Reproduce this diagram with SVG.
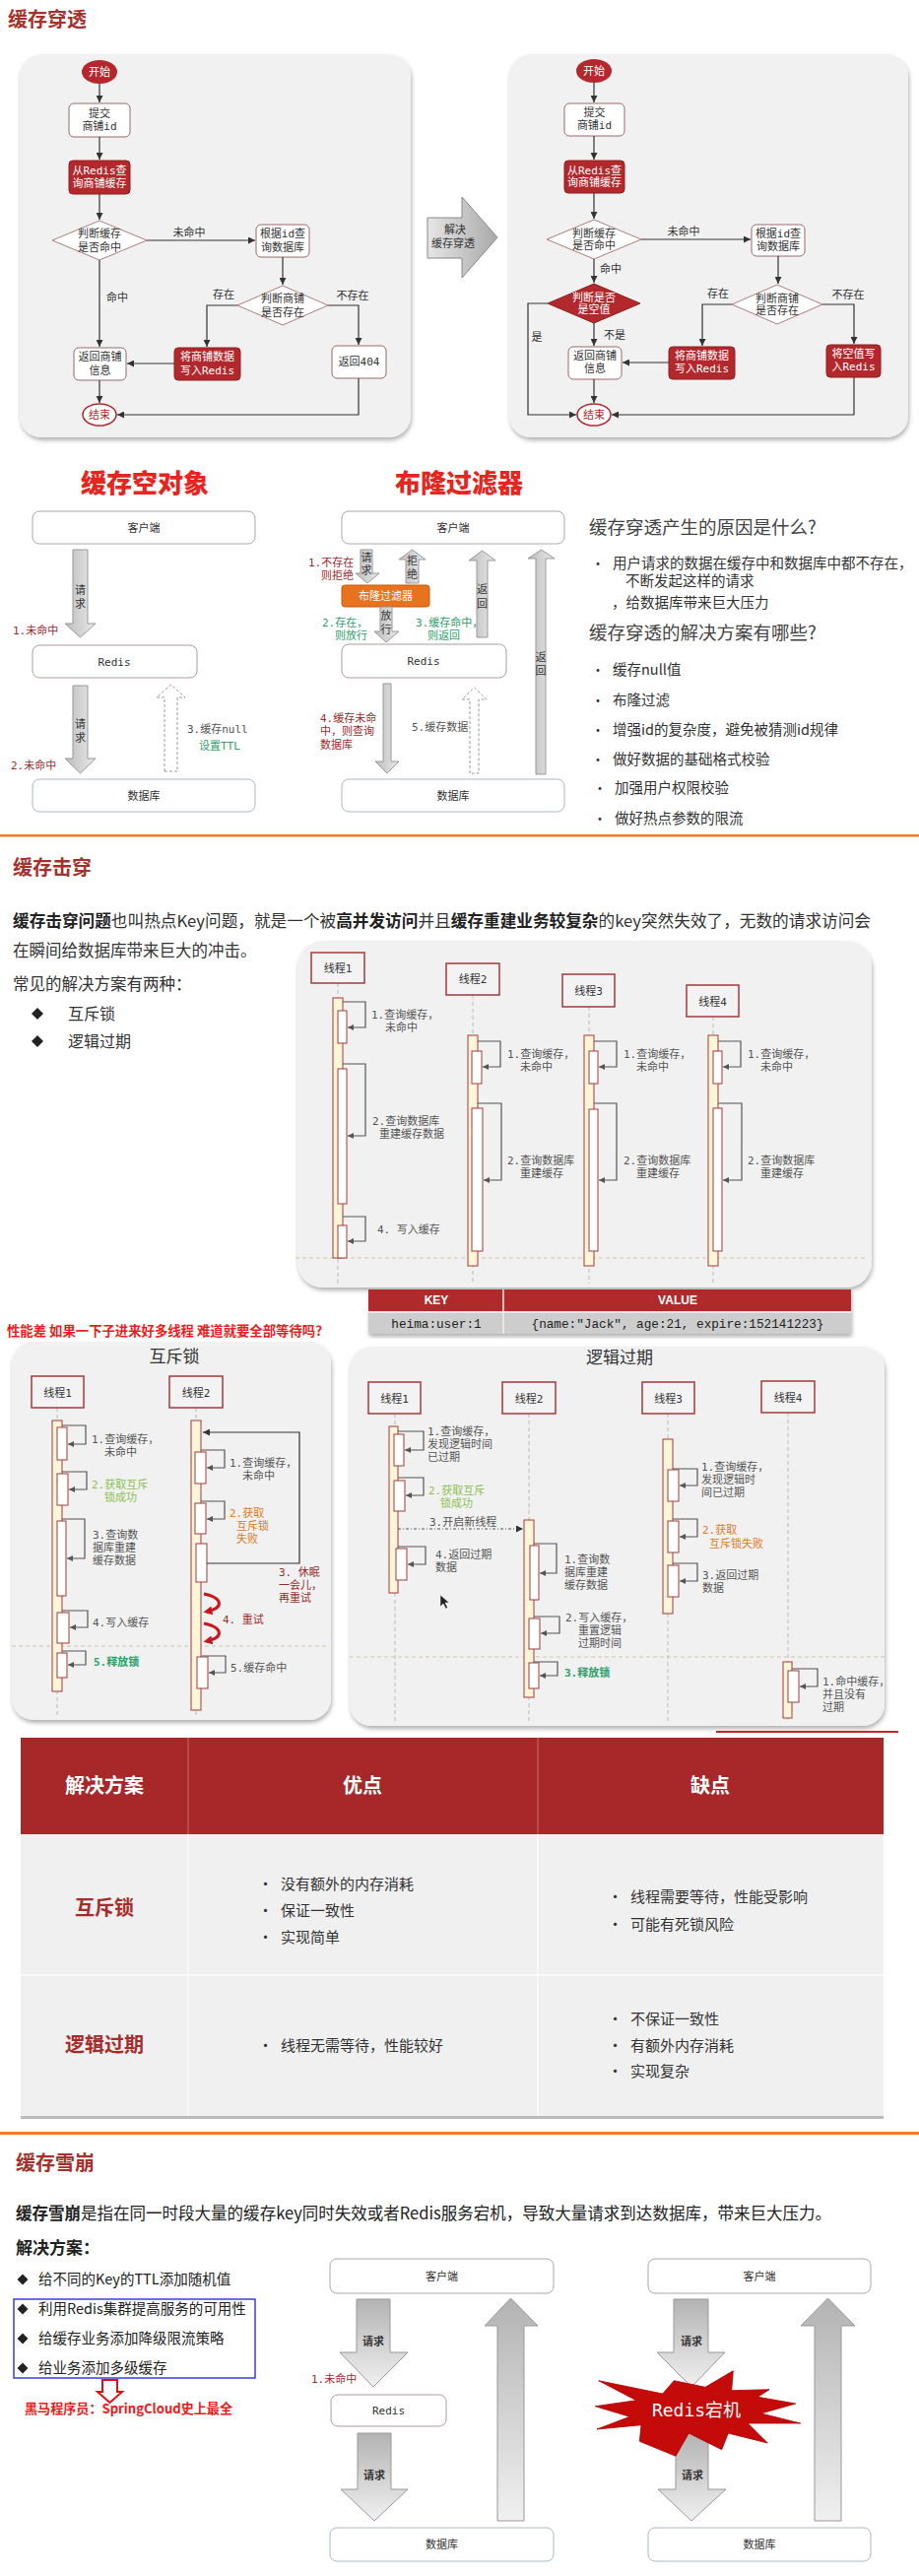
<svg xmlns="http://www.w3.org/2000/svg" width="933" height="2615" viewBox="0 0 933 2615">
<defs>
<style>
.c{font-family:"Noto Sans CJK SC","Noto Sans",sans-serif}
.h{font-family:"Noto Sans CJK SC",sans-serif;font-weight:700;font-size:20px;fill:#a5302c}
.big{font-family:"Noto Sans CJK SC",sans-serif;font-weight:900;font-size:26px;fill:#e5261f;text-anchor:middle}
.fl{font-family:"DejaVu Sans Mono","Noto Sans CJK SC",monospace;font-size:11px;fill:#333;text-anchor:middle}
.lb{font-family:"DejaVu Sans Mono","Noto Sans CJK SC",monospace;font-size:11px;fill:#555}
.bt{font-family:"Noto Sans CJK SC",sans-serif;font-size:14.5px;fill:#333}
.fw{fill:#fff}
.rt{fill:#b3282d}
.dr{fill:#9c2b2b}
.gr{fill:#2e9e6a}
.lg{fill:#8cc152}
.or{fill:#e07b22}
.nb{fill:#fff;stroke:#9a6a6a;stroke-width:1}
.rb{fill:#b3282d;stroke:#8e2020;stroke-width:1}
.dm{fill:#fff;stroke:#b07c7c;stroke-width:1}
.ln{fill:none;stroke:#333;stroke-width:1.2}
.pb{fill:#fff;stroke:#a8a8a8;stroke-width:1}
.pr{fill:#fff;stroke:#b09a9a;stroke-width:1}
.pd{fill:#fff;stroke:#a8b8cc;stroke-width:1}
.tb{fill:#f3f3f3;stroke:#a33a3a;stroke-width:1.5}
.act{fill:#fdf5d8;stroke:#a33a3a;stroke-width:1}
.inn{fill:#fff;stroke:#a33a3a;stroke-width:1}
.sa{fill:none;stroke:#555;stroke-width:1.2}
.ll{stroke:#bbb;stroke-width:1;stroke-dasharray:4 3}
.hd{stroke:#cfc6a6;stroke-width:1;stroke-dasharray:4 3}
.ga{fill:url(#gh);stroke:#999;stroke-width:1}
.gv{fill:url(#gv);stroke:#999;stroke-width:1}
.da{fill:none;stroke:#999;stroke-width:1;stroke-dasharray:3 2}
</style>
<filter id="sh" x="-5%" y="-5%" width="110%" height="115%"><feDropShadow dx="1" dy="3" stdDeviation="2" flood-color="#000" flood-opacity="0.3"/></filter>
<linearGradient id="gh" x1="0" y1="0" x2="1" y2="0"><stop offset="0" stop-color="#bdbdbd"/><stop offset="1" stop-color="#e9e9e9"/></linearGradient>
<linearGradient id="gv" x1="0" y1="0" x2="0" y2="1"><stop offset="0" stop-color="#b3b3b3"/><stop offset="1" stop-color="#f0f0f0"/></linearGradient>
<linearGradient id="gx" x1="0" y1="0" x2="1" y2="0"><stop offset="0" stop-color="#e6e6e6"/><stop offset="1" stop-color="#a9a9a9"/></linearGradient>
<marker id="a" viewBox="0 0 10 10" refX="10" refY="5" markerWidth="7" markerHeight="7" markerUnits="userSpaceOnUse" orient="auto"><path d="M0,0 L10,5 L0,10 z" fill="#333"/></marker>
<marker id="s" viewBox="0 0 10 10" refX="10" refY="5" markerWidth="6" markerHeight="6" markerUnits="userSpaceOnUse" orient="auto"><path d="M0,0 L10,5 L0,10 z" fill="#555"/></marker>
<marker id="r" viewBox="0 0 10 10" refX="6" refY="5" markerWidth="9" markerHeight="9" markerUnits="userSpaceOnUse" orient="auto"><path d="M0,0 L10,5 L0,10 z" fill="#c8171e"/></marker>
</defs>
<rect width="933" height="2615" fill="#fff"/>

<!-- ===== Section 1: 缓存穿透 ===== -->
<text class="h" x="8" y="27">缓存穿透</text>
<rect x="20" y="55" width="397" height="389" rx="22" fill="#f1f1f1" filter="url(#sh)"/>
<rect x="517" y="55" width="405" height="389" rx="22" fill="#f1f1f1" filter="url(#sh)"/>

<g id="L-start"><ellipse cx="101" cy="73" rx="18" ry="12" fill="#b3282d"/><text class="fl fw" x="101" y="77">开始</text></g>
<g id="L-submit"><rect class="nb" x="70" y="105" width="62" height="34" rx="5"/><text class="fl" x="101" y="119">提交</text><text class="fl" x="101" y="132">商铺id</text></g>
<g id="L-query-redis"><rect class="rb" x="70" y="163" width="62" height="34" rx="4"/><text class="fl fw" x="101" y="177">从Redis查</text><text class="fl fw" x="101" y="190">询商铺缓存</text></g>
<g id="L-hit"><polygon class="dm" points="53,244 101,224 149,244 101,264"/><text class="fl" x="101" y="241">判断缓存</text><text class="fl" x="101" y="255">是否命中</text></g>
<g id="L-query-db"><rect class="nb" x="260" y="228" width="54" height="33" rx="5"/><text class="fl" x="287" y="241">根据id查</text><text class="fl" x="287" y="255">询数据库</text></g>
<g id="L-exists"><polygon class="dm" points="241,310 287,290 333,310 287,330"/><text class="fl" x="287" y="307">判断商铺</text><text class="fl" x="287" y="321">是否存在</text></g>
<g id="L-write"><rect class="rb" x="177" y="353" width="67" height="33" rx="4"/><text class="fl fw" x="210.5" y="366">将商铺数据</text><text class="fl fw" x="210.5" y="380">写入Redis</text></g>
<g id="L-404"><rect class="nb" x="337" y="351" width="55" height="33" rx="5"/><text class="fl" x="364.5" y="371">返回404</text></g>
<g id="L-return"><rect class="nb" x="75" y="353" width="53" height="33" rx="5"/><text class="fl" x="101.5" y="366">返回商铺</text><text class="fl" x="101.5" y="380">信息</text></g>
<g id="L-end"><ellipse cx="101" cy="421" rx="17" ry="11" fill="#fff" stroke="#b3282d" stroke-width="1.5"/><text class="fl rt" x="101" y="425">结束</text></g>

<g id="L-edges">
<path class="ln" d="M101,85 V104" marker-end="url(#a)"/>
<path class="ln" d="M101,139 V162" marker-end="url(#a)"/>
<path class="ln" d="M101,197 V223" marker-end="url(#a)"/>
<path class="ln" d="M149,244 H259" marker-end="url(#a)"/>
<path class="ln" d="M287,261 V289" marker-end="url(#a)"/>
<path class="ln" d="M241,310 H210 V352" marker-end="url(#a)"/>
<path class="ln" d="M333,310 H364 V350" marker-end="url(#a)"/>
<path class="ln" d="M101,264 V352" marker-end="url(#a)"/>
<path class="ln" d="M177,369 H129" marker-end="url(#a)"/>
<path class="ln" d="M101,386 V409" marker-end="url(#a)"/>
<path class="ln" d="M364,384 V421 H119" marker-end="url(#a)"/>
<text class="fl" x="192" y="240">未命中</text>
<text class="fl" x="119" y="306">命中</text>
<text class="fl" x="227" y="303">存在</text>
<text class="fl" x="358" y="304">不存在</text>
</g>

<g id="solve-arrow"><path d="M434,221 H469 V200 L505,241 L469,282 V262 H434 Z" fill="url(#gx)" stroke="#888" stroke-width="1"/><text class="fl" x="462" y="237">解决</text><text class="fl" x="460" y="251">缓存穿透</text></g>

<g id="R-start"><ellipse cx="603" cy="72" rx="18" ry="12" fill="#b3282d"/><text class="fl fw" x="603" y="76">开始</text></g>
<g id="R-submit"><rect class="nb" x="573" y="105" width="61" height="33" rx="5"/><text class="fl" x="603.5" y="118">提交</text><text class="fl" x="603.5" y="131">商铺id</text></g>
<g id="R-query-redis"><rect class="rb" x="573" y="163" width="61" height="33" rx="4"/><text class="fl fw" x="603.5" y="177">从Redis查</text><text class="fl fw" x="603.5" y="189">询商铺缓存</text></g>
<g id="R-hit"><polygon class="dm" points="555,243 603,223 651,243 603,263"/><text class="fl" x="603" y="241">判断缓存</text><text class="fl" x="603" y="253">是否命中</text></g>
<g id="R-query-db"><rect class="nb" x="763" y="228" width="54" height="32" rx="5"/><text class="fl" x="790" y="241">根据id查</text><text class="fl" x="790" y="254">询数据库</text></g>
<g id="R-null"><polygon points="556,308 603,288 650,308 603,328" fill="#b3282d" stroke="#8e2020"/><text class="fl fw" x="603" y="306">判断是否</text><text class="fl fw" x="603" y="318">是空值</text></g>
<g id="R-exists"><polygon class="dm" points="743,309 789,289 835,309 789,329"/><text class="fl" x="789" y="307">判断商铺</text><text class="fl" x="789" y="319">是否存在</text></g>
<g id="R-write"><rect class="rb" x="679" y="352" width="67" height="33" rx="4"/><text class="fl fw" x="712.5" y="365">将商铺数据</text><text class="fl fw" x="712.5" y="378">写入Redis</text></g>
<g id="R-write-null"><rect class="rb" x="839" y="350" width="55" height="33" rx="4"/><text class="fl fw" x="866.5" y="363">将空值写</text><text class="fl fw" x="866.5" y="376">入Redis</text></g>
<g id="R-return"><rect class="nb" x="577" y="352" width="54" height="33" rx="5"/><text class="fl" x="604" y="365">返回商铺</text><text class="fl" x="604" y="378">信息</text></g>
<g id="R-end"><ellipse cx="603" cy="421" rx="17" ry="11" fill="#fff" stroke="#b3282d" stroke-width="1.5"/><text class="fl rt" x="603" y="425">结束</text></g>

<g id="R-edges">
<path class="ln" d="M603,84 V104" marker-end="url(#a)"/>
<path class="ln" d="M603,138 V162" marker-end="url(#a)"/>
<path class="ln" d="M603,196 V222" marker-end="url(#a)"/>
<path class="ln" d="M651,243 H762" marker-end="url(#a)"/>
<path class="ln" d="M790,260 V288" marker-end="url(#a)"/>
<path class="ln" d="M603,263 V287" marker-end="url(#a)"/>
<path class="ln" d="M603,328 V351" marker-end="url(#a)"/>
<path class="ln" d="M556,308 H536 V421 H585" marker-end="url(#a)"/>
<path class="ln" d="M743,309 H713 V351" marker-end="url(#a)"/>
<path class="ln" d="M835,309 H867 V349" marker-end="url(#a)"/>
<path class="ln" d="M679,368 H632" marker-end="url(#a)"/>
<path class="ln" d="M603,385 V409" marker-end="url(#a)"/>
<path class="ln" d="M867,383 V421 H621" marker-end="url(#a)"/>
<text class="fl" x="694" y="239">未命中</text>
<text class="fl" x="620" y="277">命中</text>
<text class="fl" x="729" y="302">存在</text>
<text class="fl" x="861" y="303">不存在</text>
<text class="fl" x="545" y="346">是</text>
<text class="fl" x="624" y="344">不是</text>
</g>

<!-- ===== Section 2: 缓存空对象 / 布隆过滤器 ===== -->
<text class="big" x="147" y="500">缓存空对象</text>
<text class="big" x="466" y="500">布隆过滤器</text>

<g id="N-client"><rect class="pb" x="33" y="519" width="226" height="33" rx="7"/><text class="fl" x="146" y="540" fill="#555">客户端</text></g>
<g id="N-redis"><rect class="pr" x="33" y="655" width="167" height="33" rx="7"/><text class="fl" x="116" y="676">Redis</text></g>
<g id="N-db"><rect class="pd" x="33" y="791" width="226" height="33" rx="7"/><text class="fl" x="146" y="812">数据库</text></g>
<g id="N-edges">
<path class="ga" d="M74,558 H89 V633 H97 L81.5,647 L66,633 H74 Z"/>
<text class="fl" x="81.5" y="603">请</text><text class="fl" x="81.5" y="617">求</text>
<path class="ga" d="M74,696 H89 V770 H97 L81.5,785 L66,770 H74 Z"/>
<text class="fl" x="81.5" y="739">请</text><text class="fl" x="81.5" y="753">求</text>
<path class="da" d="M167,783 V708 H159 L173.5,695 L188,708 H180 V783 Z"/>
<text class="lb dr" x="13" y="644">1.未命中</text>
<text class="lb dr" x="11" y="781">2.未命中</text>
<text class="lb" x="190" y="744">3.缓存null</text>
<text class="lb gr" x="202" y="761">设置TTL</text>
</g>

<g id="B-client"><rect class="pb" x="347" y="519" width="226" height="33" rx="7"/><text class="fl" x="460" y="540">客户端</text></g>
<g id="B-filter"><rect x="347" y="594" width="89" height="22" rx="3" fill="#e8731f" stroke="#c55a10"/><text class="fl fw" x="391.5" y="609">布隆过滤器</text></g>
<g id="B-redis"><rect class="pr" x="347" y="654" width="167" height="34" rx="7"/><text class="fl" x="430" y="675">Redis</text></g>
<g id="B-db"><rect class="pd" x="347" y="791" width="226" height="33" rx="7"/><text class="fl" x="460" y="812">数据库</text></g>
<g id="B-edges">
<path class="ga" d="M366,558 H378 V582 H385 L373,592 L361,582 H366 Z"/>
<text class="fl" x="372" y="570">请</text><text class="fl" x="372" y="583">求</text>
<path class="ga" d="M412,592 V568 H405 L418.5,558 L432,568 H425 V592 Z"/>
<text class="fl" x="418.5" y="573">拒</text><text class="fl" x="418.5" y="587">绝</text>
<path class="ga" d="M386,616 H398 V641 H405 L392,652 L380,641 H386 Z"/>
<text class="fl" x="392" y="629">放</text><text class="fl" x="392" y="643">行</text>
<path class="ga" d="M484,647 V569 H476 L489.5,559 L503,569 H495 V647 Z"/>
<text class="fl" x="489.5" y="602">返</text><text class="fl" x="489.5" y="617">回</text>
<path class="ga" d="M389,694 H397 V773 H405 L393,785 L381,773 H389 Z"/>
<path class="da" d="M477,785 V710 H469 L481.5,698 L494,710 H486 V785 Z"/>
<path class="ga" d="M544,786 V567 H536 L549.5,558 L563,567 H554 V786 Z"/>
<text class="fl" x="549" y="671">返</text><text class="fl" x="549" y="685">回</text>
<text class="lb dr" x="313" y="575">1.不存在</text>
<text class="lb dr" x="326" y="588">则拒绝</text>
<text class="lb gr" x="327" y="636">2.存在，</text>
<text class="lb gr" x="340" y="649">则放行</text>
<text class="lb gr" x="422" y="636">3.缓存命中，</text>
<text class="lb gr" x="434" y="649">则返回</text>
<text class="lb dr" x="325" y="733">4.缓存未命</text>
<text class="lb dr" x="325" y="746">中，则查询</text>
<text class="lb dr" x="325" y="760">数据库</text>
<text class="lb" x="418" y="742">5.缓存数据</text>
</g>

<g id="pen-text" class="c">
<text x="598" y="542" font-size="18.5" fill="#444">缓存穿透产生的原因是什么?</text>
<text x="600" y="577" font-size="14" fill="#333">•</text>
<text class="bt" x="622" y="577">用户请求的数据在缓存中和数据库中都不存在，</text>
<text class="bt" x="635" y="595">不断发起这样的请求</text>
<text class="bt" x="621" y="617">，给数据库带来巨大压力</text>
<text x="598" y="649" font-size="18.5" fill="#444">缓存穿透的解决方案有哪些?</text>
<text x="600" y="685" font-size="14" fill="#333">•</text><text class="bt" x="622" y="685">缓存null值</text>
<text x="600" y="716" font-size="14" fill="#333">•</text><text class="bt" x="622" y="716">布隆过滤</text>
<text x="600" y="746" font-size="14" fill="#333">•</text><text class="bt" x="622" y="746">增强id的复杂度，避免被猜测id规律</text>
<text x="600" y="776" font-size="14" fill="#333">•</text><text class="bt" x="622" y="776">做好数据的基础格式校验</text>
<text x="602" y="805" font-size="14" fill="#333">•</text><text class="bt" x="624" y="805">加强用户权限校验</text>
<text x="602" y="836" font-size="14" fill="#333">•</text><text class="bt" x="624" y="836">做好热点参数的限流</text>
</g>
<rect x="0" y="847" width="933" height="2.5" fill="#f47a2a"/>

<!-- ===== Section 3: 缓存击穿 ===== -->
<text class="h" x="13" y="888">缓存击穿</text>
<g class="c" fill="#333">
<text x="13" y="941" font-size="16.5" textLength="871" lengthAdjust="spacingAndGlyphs"><tspan font-weight="700" fill="#222">缓存击穿问题</tspan>也叫热点Key问题，就是一个被<tspan font-weight="700" fill="#222">高并发访问</tspan>并且<tspan font-weight="700" fill="#222">缓存重建业务较复杂</tspan>的key突然失效了，无数的请求访问会</text>
<text x="13" y="971" font-size="16.5">在瞬间给数据库带来巨大的冲击。</text>
<text x="13" y="1005" font-size="16.5">常见的解决方案有两种：</text>
<polygon points="38,1023 44,1029 38,1035 32,1029" fill="#222"/>
<text x="69" y="1035" font-size="16">互斥锁</text>
<polygon points="38,1051 44,1057 38,1063 32,1057" fill="#222"/>
<text x="69" y="1063" font-size="16">逻辑过期</text>
</g>

<rect x="302" y="955" width="583" height="352" rx="26" fill="#f1f1f1" filter="url(#sh)"/>
<g id="K-lifelines">
<line class="ll" x1="343" y1="998" x2="343" y2="1303"/>
<line class="ll" x1="480" y1="1010" x2="480" y2="1303"/>
<line class="ll" x1="598" y1="1022" x2="598" y2="1303"/>
<line class="ll" x1="724" y1="1032" x2="724" y2="1303"/>
<line class="hd" x1="300" y1="1277" x2="880" y2="1277"/>
</g>
<g id="K-T1"><rect class="tb" x="316" y="967" width="54" height="31"/><text class="fl" x="343" y="987">线程1</text>
<rect class="act" x="338" y="1013" width="10" height="264"/>
<rect class="inn" x="343" y="1026" width="9" height="33"/><rect class="inn" x="343" y="1085" width="9" height="137"/><rect class="inn" x="343" y="1244" width="9" height="33"/></g>
<g id="K-T2"><rect class="tb" x="453" y="978" width="54" height="32"/><text class="fl" x="480" y="998">线程2</text>
<rect class="act" x="475" y="1051" width="10" height="234"/>
<rect class="inn" x="479" y="1067" width="10" height="33"/><rect class="inn" x="479" y="1125" width="11" height="145"/></g>
<g id="K-T3"><rect class="tb" x="571" y="989" width="53" height="33"/><text class="fl" x="597.5" y="1010">线程3</text>
<rect class="act" x="593" y="1051" width="10" height="234"/>
<rect class="inn" x="598" y="1067" width="9" height="33"/><rect class="inn" x="598" y="1126" width="9" height="144"/></g>
<g id="K-T4"><rect class="tb" x="697" y="1000" width="53" height="32"/><text class="fl" x="723.5" y="1021">线程4</text>
<rect class="act" x="719" y="1051" width="10" height="234"/>
<rect class="inn" x="724" y="1067" width="9" height="33"/><rect class="inn" x="724" y="1125" width="9" height="145"/></g>
<g id="K-edges">
<path class="sa" d="M348,1017 H371 V1043 H353" marker-end="url(#s)"/>
<path class="sa" d="M348,1080 H371 V1153 H353" marker-end="url(#s)"/>
<path class="sa" d="M348,1235 H371 V1260 H353" marker-end="url(#s)"/>
<path class="sa" d="M485,1057 H508 V1083 H490" marker-end="url(#s)"/>
<path class="sa" d="M485,1120 H509 V1198 H491" marker-end="url(#s)"/>
<path class="sa" d="M603,1057 H626 V1083 H608" marker-end="url(#s)"/>
<path class="sa" d="M603,1120 H626 V1198 H608" marker-end="url(#s)"/>
<path class="sa" d="M729,1057 H752 V1083 H734" marker-end="url(#s)"/>
<path class="sa" d="M729,1120 H753 V1198 H734" marker-end="url(#s)"/>
<text class="lb" x="377" y="1034">1.查询缓存，</text><text class="lb" x="391" y="1047">未命中</text>
<text class="lb" x="378" y="1142">2.查询数据库</text><text class="lb" x="385" y="1155">重建缓存数据</text>
<text class="lb" x="383" y="1252">4. 写入缓存</text>
<text class="lb" x="515" y="1074">1.查询缓存，</text><text class="lb" x="528" y="1087">未命中</text>
<text class="lb" x="515" y="1182">2.查询数据库</text><text class="lb" x="528" y="1195">重建缓存</text>
<text class="lb" x="633" y="1074">1.查询缓存，</text><text class="lb" x="646" y="1087">未命中</text>
<text class="lb" x="633" y="1182">2.查询数据库</text><text class="lb" x="646" y="1195">重建缓存</text>
<text class="lb" x="759" y="1074">1.查询缓存，</text><text class="lb" x="772" y="1087">未命中</text>
<text class="lb" x="759" y="1182">2.查询数据库</text><text class="lb" x="772" y="1195">重建缓存</text>
</g>

<g id="kv-table">
<rect x="374" y="1309" width="490" height="45" fill="#ccc" filter="url(#sh)"/>
<rect x="374" y="1309" width="490" height="22" fill="#b0292b"/>
<rect x="374" y="1333" width="490" height="21" fill="#cdcdcd"/>
<line x1="511" y1="1309" x2="511" y2="1354" stroke="#eee" stroke-width="1.5"/>
<line x1="374" y1="1332" x2="864" y2="1332" stroke="#eee" stroke-width="1.5"/>
<text x="443" y="1324" font-family="Liberation Sans,Arial,sans-serif" font-weight="700" font-size="12" fill="#fff" text-anchor="middle">KEY</text>
<text x="688" y="1324" font-family="Liberation Sans,Arial,sans-serif" font-weight="700" font-size="12" fill="#fff" text-anchor="middle">VALUE</text>
<text x="443" y="1348" font-family="Liberation Mono,monospace" font-size="12.7" fill="#222" text-anchor="middle">heima:user:1</text>
<text x="688" y="1348" font-family="Liberation Mono,monospace" font-size="12.7" fill="#222" text-anchor="middle">{name:"Jack", age:21, expire:152141223}</text>
</g>

<text x="7" y="1356" class="c" font-size="13.5" font-weight="700" fill="#ee1c1c" textLength="320" lengthAdjust="spacingAndGlyphs">性能差 如果一下子进来好多线程 难道就要全部等待吗?</text>

<!-- 互斥锁 -->
<rect x="12" y="1362" width="324" height="384" rx="22" fill="#f1f1f1" filter="url(#sh)"/>
<text class="c" x="177" y="1383" font-size="17" fill="#333" text-anchor="middle">互斥锁</text>
<g id="M-lifelines">
<line class="ll" x1="58" y1="1429" x2="58" y2="1742"/>
<line class="ll" x1="199" y1="1429" x2="199" y2="1742"/>
<line class="hd" x1="12" y1="1671" x2="333" y2="1671"/>
</g>
<g id="M-T1"><rect class="tb" x="32" y="1397" width="53" height="32"/><text class="fl" x="58.5" y="1418">线程1</text>
<rect class="act" x="53" y="1442" width="10" height="275"/>
<rect class="inn" x="58" y="1449" width="10" height="33"/><rect class="inn" x="58" y="1496" width="11" height="32"/><rect class="inn" x="58" y="1544" width="9" height="76"/><rect class="inn" x="58" y="1637" width="12" height="31"/><rect class="inn" x="58" y="1678" width="10" height="25"/></g>
<g id="M-T2"><rect class="tb" x="172" y="1397" width="54" height="32"/><text class="fl" x="199" y="1418">线程2</text>
<rect class="act" x="194" y="1442" width="10" height="294"/>
<rect class="inn" x="198" y="1474" width="11" height="32"/><rect class="inn" x="198" y="1526" width="11" height="31"/><rect class="inn" x="199" y="1567" width="11" height="39"/><rect class="inn" x="200" y="1682" width="11" height="32"/></g>
<g id="M-edges">
<path class="sa" d="M63,1447 H87 V1466 H69" marker-end="url(#s)"/>
<path class="sa" d="M63,1494 H88 V1512 H70" marker-end="url(#s)"/>
<path class="sa" d="M63,1542 H86 V1582 H68" marker-end="url(#s)"/>
<path class="sa" d="M63,1635 H89 V1652 H71" marker-end="url(#s)"/>
<path class="sa" d="M63,1676 H87 V1690 H69" marker-end="url(#s)"/>
<path class="sa" d="M204,1472 H228 V1490 H210" marker-end="url(#s)"/>
<path class="sa" d="M204,1524 H228 V1542 H210" marker-end="url(#s)"/>
<path class="sa" d="M205,1681 H229 V1698 H212" marker-end="url(#s)"/>
<path d="M210,1587 H304 V1454 H206" fill="none" stroke="#333" stroke-width="1.2" marker-end="url(#a)"/>
<path d="M207,1618 C226,1622 228,1632 210,1636" fill="none" stroke="#c8171e" stroke-width="3" marker-end="url(#r)"/>
<path d="M207,1648 C226,1652 228,1662 210,1666" fill="none" stroke="#c8171e" stroke-width="3" marker-end="url(#r)"/>
<text class="lb" x="93" y="1465">1.查询缓存，</text><text class="lb" x="106" y="1478">未命中</text>
<text class="lb lg" x="93" y="1511">2.获取互斥</text><text class="lb lg" x="106" y="1524">锁成功</text>
<text class="lb" x="94" y="1562">3.查询数</text><text class="lb" x="94" y="1575">据库重建</text><text class="lb" x="94" y="1588">缓存数据</text>
<text class="lb" x="94" y="1651">4.写入缓存</text>
<text class="lb gr" x="95" y="1691" font-weight="700">5.释放锁</text>
<text class="lb" x="233" y="1489">1.查询缓存，</text><text class="lb" x="246" y="1502">未命中</text>
<text class="lb or" x="233" y="1540">2.获取</text><text class="lb or" x="240" y="1553">互斥锁</text><text class="lb or" x="240" y="1566">失败</text>
<text class="lb dr" x="283" y="1600">3. 休眠</text><text class="lb dr" x="283" y="1613">一会儿，</text><text class="lb dr" x="283" y="1626">再重试</text>
<text class="lb dr" x="226" y="1648">4. 重试</text>
<text class="lb" x="234" y="1697">5.缓存命中</text>
</g>

<!-- 逻辑过期 -->
<rect x="355" y="1367" width="543" height="385" rx="22" fill="#f1f1f1" filter="url(#sh)"/>
<text class="c" x="629" y="1384" font-size="17" fill="#333" text-anchor="middle">逻辑过期</text>
<g id="E-lifelines">
<line class="ll" x1="401" y1="1435" x2="401" y2="1748"/>
<line class="ll" x1="537" y1="1435" x2="537" y2="1748"/>
<line class="ll" x1="678" y1="1435" x2="678" y2="1748"/>
<line class="ll" x1="800" y1="1434" x2="800" y2="1748"/>
<line class="hd" x1="355" y1="1682" x2="898" y2="1682"/>
</g>
<g id="E-T1"><rect class="tb" x="374" y="1403" width="53" height="32"/><text class="fl" x="400.5" y="1424">线程1</text>
<rect class="act" x="395" y="1448" width="9" height="169"/>
<rect class="inn" x="400" y="1456" width="10" height="32"/><rect class="inn" x="400" y="1503" width="11" height="31"/><rect class="inn" x="402" y="1572" width="11" height="32"/></g>
<g id="E-T2"><rect class="tb" x="510" y="1403" width="54" height="32"/><text class="fl" x="537" y="1424">线程2</text>
<rect class="act" x="532" y="1543" width="10" height="180"/>
<rect class="inn" x="538" y="1569" width="9" height="55"/><rect class="inn" x="537" y="1643" width="11" height="31"/><rect class="inn" x="537" y="1688" width="10" height="26"/></g>
<g id="E-T3"><rect class="tb" x="652" y="1403" width="53" height="32"/><text class="fl" x="678.5" y="1424">线程3</text>
<rect class="act" x="673" y="1461" width="10" height="177"/>
<rect class="inn" x="678" y="1492" width="11" height="32"/><rect class="inn" x="678" y="1544" width="11" height="32"/><rect class="inn" x="678" y="1589" width="11" height="32"/></g>
<g id="E-T4"><rect class="tb" x="773" y="1402" width="54" height="32"/><text class="fl" x="800" y="1423">线程4</text>
<rect class="act" x="795" y="1687" width="9" height="57"/>
<rect class="inn" x="800" y="1696" width="11" height="32"/></g>
<g id="E-edges">
<path class="sa" d="M404,1453 H430 V1472 H411" marker-end="url(#s)"/>
<path class="sa" d="M404,1500 H430 V1518 H412" marker-end="url(#s)"/>
<path d="M404,1552 H531" fill="none" stroke="#555" stroke-width="1.2" stroke-dasharray="3 2 1 2" marker-end="url(#a)"/>
<path class="sa" d="M404,1570 H432 V1588 H414" marker-end="url(#s)"/>
<path class="sa" d="M542,1567 H565 V1597 H548" marker-end="url(#s)"/>
<path class="sa" d="M542,1641 H568 V1658 H549" marker-end="url(#s)"/>
<path class="sa" d="M542,1687 H566 V1701 H548" marker-end="url(#s)"/>
<path class="sa" d="M683,1491 H708 V1508 H690" marker-end="url(#s)"/>
<path class="sa" d="M683,1542 H708 V1560 H690" marker-end="url(#s)"/>
<path class="sa" d="M683,1587 H708 V1605 H690" marker-end="url(#s)"/>
<path class="sa" d="M804,1694 H830 V1712 H812" marker-end="url(#s)"/>
<text class="lb" x="434" y="1457">1.查询缓存，</text><text class="lb" x="434" y="1470">发现逻辑时间</text><text class="lb" x="434" y="1483">已过期</text>
<text class="lb lg" x="435" y="1517">2.获取互斥</text><text class="lb lg" x="447" y="1530">锁成功</text>
<text class="lb" x="436" y="1549">3.开启新线程</text>
<text class="lb" x="442" y="1582">4.返回过期</text><text class="lb" x="442" y="1595">数据</text>
<text class="lb" x="573" y="1587">1.查询数</text><text class="lb" x="573" y="1600">据库重建</text><text class="lb" x="573" y="1613">缓存数据</text>
<text class="lb" x="574" y="1646">2.写入缓存，</text><text class="lb" x="587" y="1659">重置逻辑</text><text class="lb" x="587" y="1672">过期时间</text>
<text class="lb gr" x="573" y="1702" font-weight="700">3.释放锁</text>
<text class="lb" x="712" y="1493">1.查询缓存，</text><text class="lb" x="712" y="1506">发现逻辑时</text><text class="lb" x="712" y="1519">间已过期</text>
<text class="lb or" x="713" y="1557">2.获取</text><text class="lb or" x="720" y="1571">互斥锁失败</text>
<text class="lb" x="713" y="1603">3.返回过期</text><text class="lb" x="713" y="1616">数据</text>
<text class="lb" x="835" y="1711">1.命中缓存，</text><text class="lb" x="835" y="1724">并且没有</text><text class="lb" x="835" y="1737">过期</text>
</g>
<polygon points="447,1619 447,1631 450,1628 452.5,1633 454.5,1632 452,1627 456,1627" fill="#222" stroke="#fff" stroke-width="0.5"/>
<line x1="727" y1="1758" x2="912" y2="1758" stroke="#c0282a" stroke-width="2"/>

<!-- 对比表 -->
<g id="compare-table" class="c">
<rect x="21" y="1862" width="876" height="289" fill="#bbb"/>
<rect x="21" y="1764" width="876" height="98" fill="#a8282a"/>
<rect x="21" y="1862" width="876" height="286" fill="#f0f0f0"/>
<line x1="191" y1="1764" x2="191" y2="1862" stroke="#c56a6a" stroke-width="1"/>
<line x1="546" y1="1764" x2="546" y2="1862" stroke="#c56a6a" stroke-width="1"/>
<line x1="191" y1="1862" x2="191" y2="2148" stroke="#fafafa" stroke-width="1.5"/>
<line x1="546" y1="1862" x2="546" y2="2148" stroke="#fafafa" stroke-width="1.5"/>
<line x1="21" y1="2005" x2="897" y2="2005" stroke="#fafafa" stroke-width="2"/>
<text x="106" y="1820" font-size="20" font-weight="700" fill="#fff" text-anchor="middle">解决方案</text>
<text x="368" y="1820" font-size="20" font-weight="700" fill="#fff" text-anchor="middle">优点</text>
<text x="721" y="1820" font-size="20" font-weight="700" fill="#fff" text-anchor="middle">缺点</text>
<text x="106" y="1944" font-size="20" font-weight="700" fill="#a82a2a" text-anchor="middle">互斥锁</text>
<text x="106" y="2083" font-size="20" font-weight="700" fill="#a82a2a" text-anchor="middle">逻辑过期</text>
<g font-size="15" fill="#333">
<text x="262" y="1918">•</text><text x="285" y="1918">没有额外的内存消耗</text>
<text x="262" y="1945">•</text><text x="285" y="1945">保证一致性</text>
<text x="262" y="1972">•</text><text x="285" y="1972">实现简单</text>
<text x="617" y="1931">•</text><text x="640" y="1931">线程需要等待，性能受影响</text>
<text x="617" y="1959">•</text><text x="640" y="1959">可能有死锁风险</text>
<text x="262" y="2082">•</text><text x="285" y="2082">线程无需等待，性能较好</text>
<text x="617" y="2055">•</text><text x="640" y="2055">不保证一致性</text>
<text x="617" y="2082">•</text><text x="640" y="2082">有额外内存消耗</text>
<text x="617" y="2108">•</text><text x="640" y="2108">实现复杂</text>
</g>
</g>
<rect x="0" y="2164" width="933" height="3" fill="#f47a2a"/>

<!-- ===== Section 5: 缓存雪崩 ===== -->
<text class="h" x="16" y="2203">缓存雪崩</text>
<g class="c" fill="#222">
<text x="16" y="2253" font-size="17" textLength="828" lengthAdjust="spacingAndGlyphs"><tspan font-weight="700">缓存雪崩</tspan>是指在同一时段大量的缓存key同时失效或者Redis服务宕机，导致大量请求到达数据库，带来巨大压力。</text>
<text x="16" y="2288" font-size="17" font-weight="700">解决方案：</text>
<polygon points="23,2308.5 28.5,2314 23,2319.5 17.5,2314"/>
<text x="39" y="2319" font-size="14.5">给不同的Key的TTL添加随机值</text>
<polygon points="23,2338.5 28.5,2344 23,2349.5 17.5,2344"/>
<text x="39" y="2349" font-size="14.5">利用Redis集群提高服务的可用性</text>
<polygon points="23,2368.5 28.5,2374 23,2379.5 17.5,2374"/>
<text x="39" y="2379" font-size="14.5">给缓存业务添加降级限流策略</text>
<polygon points="23,2398.5 28.5,2404 23,2409.5 17.5,2404"/>
<text x="39" y="2409" font-size="14.5">给业务添加多级缓存</text>
</g>
<rect x="14" y="2334" width="245" height="80" fill="none" stroke="#3a3fd8" stroke-width="1.5"/>
<path d="M104,2416 H119 V2428 H124 L111.5,2439 L99,2428 H104 Z" fill="#fff" stroke="#e01010" stroke-width="2"/>
<text x="25" y="2450" class="c" font-size="13.5" font-weight="700" fill="#f01818" textLength="211" lengthAdjust="spacingAndGlyphs">黑马程序员：SpringCloud史上最全</text>

<g id="A-client"><rect class="pb" x="335" y="2293" width="227" height="35" rx="7"/><text class="fl" x="448.5" y="2315" fill="#555">客户端</text></g>
<g id="A-redis"><rect class="pr" x="336" y="2431" width="117" height="32" rx="7"/><text class="fl" x="394.5" y="2451">Redis</text></g>
<g id="A-db"><rect class="pd" x="335" y="2566" width="227" height="34" rx="7"/><text class="fl" x="448.5" y="2587">数据库</text></g>
<g id="A-edges">
<path class="gv" d="M362,2334 H396 V2388 H414 L379,2423 L345,2388 H362 Z"/>
<text class="fl" x="379" y="2381" font-weight="700">请求</text>
<path class="gv" d="M363,2470 H397 V2527 H414 L380,2559 L346,2527 H363 Z"/>
<text class="fl" x="380" y="2517" font-weight="700">请求</text>
<path class="gv" d="M505,2559 V2361 H492 L518.5,2333 L546,2361 H532 V2559 Z"/>
<text class="lb dr" x="316" y="2419">1.未命中</text>
</g>

<g id="C-client"><rect class="pb" x="658" y="2293" width="226" height="35" rx="7"/><text class="fl" x="771" y="2315" fill="#555">客户端</text></g>
<g id="C-db"><rect class="pd" x="658" y="2566" width="226" height="34" rx="7"/><text class="fl" x="771" y="2587">数据库</text></g>
<g id="C-edges">
<path class="gv" d="M684,2334 H719 V2388 H736 L702,2423 L667,2388 H684 Z"/>
<text class="fl" x="702" y="2381" font-weight="700">请求</text>
<path class="gv" d="M686,2470 H719 V2527 H737 L702,2559 L668,2527 H686 Z"/>
<text class="fl" x="703" y="2517" font-weight="700">请求</text>
<path class="gv" d="M827,2559 V2361 H813 L840.5,2333 L868,2361 H854 V2559 Z"/>
</g>
<g id="C-redis-down">
<polygon points="607.7,2416.7 646,2436.7 604.3,2442.7 639.3,2453.3 606,2466 651,2461.7 649.3,2478.3 686,2493.3 699.3,2470 732.7,2486.7 739.3,2470 779.3,2480 759.3,2460 812.7,2460 772.7,2450 807.7,2440 769.3,2433.3 781,2425.7 742.7,2426.7 744.3,2406.7 716,2423.3 684.3,2416.7 672.7,2430" fill="#c50a0a" stroke="#a00" stroke-width="0.8"/>
<text x="707" y="2453" font-family="DejaVu Sans Mono,Noto Sans CJK SC,monospace" font-size="18" fill="#fff" text-anchor="middle">Redis宕机</text>
</g>
</svg>
